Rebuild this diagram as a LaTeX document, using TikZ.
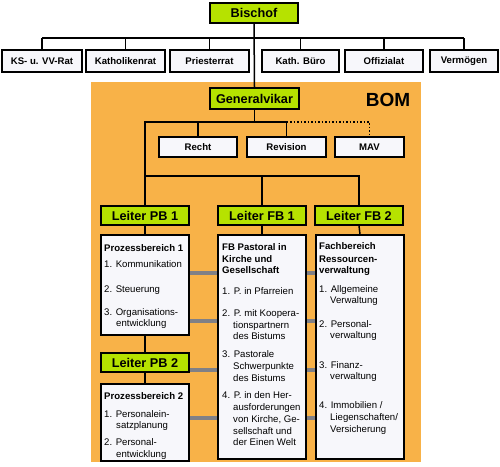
\documentclass[tikz,border=0pt]{standalone}
\usepackage{fontspec}
\setmainfont{Liberation Sans}

\definecolor{bomorange}{RGB}{248,178,72}
\definecolor{leitgruen}{RGB}{182,226,0}
\definecolor{boxweiss}{RGB}{247,247,251}
\definecolor{balkengrau}{RGB}{128,128,134}

\tikzset{
  linie/.style={line width=1.5pt},
  kasten/.style={draw,line width=1.5pt,fill=boxweiss,inner sep=0pt,
    font=\fontsize{9.6}{11.7}\selectfont\bfseries},
  leiter/.style={draw,line width=1.8pt,fill=leitgruen,inner sep=0pt,
    font=\fontsize{12.7}{14}\selectfont\bfseries},
  balken/.style={line width=3.6pt,draw=balkengrau},
  zeile/.style={anchor=base west,inner sep=0pt,font=\fontsize{9.6}{11.7}\selectfont}
}

\begin{document}
\begin{tikzpicture}[x=1pt,y=-1pt]
  \useasboundingbox (0,0) rectangle (500,466);
  % BOM area
  \fill[bomorange] (91,82) rectangle (421,462);
  \node[font=\fontsize{19}{20}\selectfont\bfseries] (bom) at (388,100) {BOM};

  % gray links between the areas
  \foreach \y in {273,321,370,418}
    {
      \draw[balken] (120,\y) -- (240,\y);
      \draw[balken] (290,\y) -- (330,\y);
    }

  % Bischof and the councils
  \node[leiter,minimum width=88pt,minimum height=20pt] (bischof) at (254,13) {Bischof};
  \foreach \x/\w/\n/\s in {42/80/ks/KS- u. VV-Rat,125.5/79/kr/Katholikenrat,
      209.5/79/pr/Priesterrat,300.5/77/kb/Kath. Büro,384/78/of/Offizialat,
      464/68/vm/Vermögen}
    {
      \node[kasten,minimum width=\w pt,minimum height=22pt] (\n) at (\x,61) {\s};
    }
  \coordinate (busoben) at (254,38);
  \draw[linie] (ks.north |- busoben) -- (vm.north |- busoben);
  \foreach \n in {ks,kr,pr,kb,of,vm}
    {
      \draw[linie] (\n.north) -- (\n.north |- busoben);
    }

  % Generalvikar and staff
  \node[leiter,minimum width=89pt,minimum height=21pt] (gv) at (254.5,98.5) {Generalvikar};
  \draw[linie] (bischof.south) -- (gv.north);
  \node[kasten,minimum width=78pt,minimum height=20pt] (recht) at (198,147) {Recht};
  \node[kasten,minimum width=79pt,minimum height=20pt] (revision) at (286.5,147) {Revision};
  \node[kasten,minimum width=69pt,minimum height=20pt] (mav) at (369.5,147) {MAV};
  \coordinate (gvbus) at (254.5,122);

  % Leiter
  \node[leiter,minimum width=88pt,minimum height=19pt] (lpb1) at (145,215.5) {Leiter PB 1};
  \node[leiter,minimum width=88pt,minimum height=19pt] (lfb1) at (262,215.5) {Leiter FB 1};
  \node[leiter,minimum width=88pt,minimum height=19pt] (lfb2) at (359,215.5) {Leiter FB 2};
  \node[leiter,minimum width=88pt,minimum height=19pt] (lpb2) at (145,362.5) {Leiter PB 2};
  \coordinate (lbus) at (254,176);

  \draw[linie] (gv.south) -- (gvbus);
  \draw[linie] (lpb1.north) |- (revision.north |- gvbus) -- (revision.north);
  \draw[linie] (recht.north) -- (recht.north |- gvbus);
  \draw[linie,dotted] (revision.north |- gvbus) -| (mav.north);
  \draw[linie] (lpb1.north |- lbus) -| (lfb2.north);
  \draw[linie] (lfb1.north) -- (lfb1.north |- lbus);

  % areas
  \node[kasten,minimum width=88pt,minimum height=100pt] (pb1) at (145,285) {};
  \node[kasten,minimum width=88pt,minimum height=77pt] (pb2) at (145,422.5) {};
  \node[kasten,minimum width=88pt,minimum height=224pt] (fb1) at (262,347) {};
  \node[kasten,minimum width=88pt,minimum height=224pt] (fb2) at (360,347) {};
  \draw[linie] (lpb1.south) -- (pb1.north);
  \draw[linie] (pb1.south) -- (lpb2.north);
  \draw[linie] (lpb2.south) -- (pb2.north);
  \draw[linie] (lfb1.south) -- (fb1.north);
  \draw[linie] (lfb2.south) -- (fb2.north);

  % texts of the areas
  \foreach \x/\y/\t [count=\i] in {104/251/{\bfseries Prozessbereich 1},
      104/267.7/{1. Kommunikation},104/292/{2. Steuerung},
      104/315/{3. Organisations-},116/326/{entwicklung},
      104/399/{\bfseries Prozessbereich 2},104/417/{1. Personalein-},
      116/428/{satzplanung},104/445/{2. Personal-},116/457/{entwicklung}}
    {
      \node[zeile] (pbtext-\i) at (\x,\y) {\t};
    }
  \foreach \x/\y/\t [count=\i] in {222/250/{\bfseries FB Pastoral in},
      222/262/{\bfseries Kirche und},222/273/{\bfseries Gesellschaft},
      222/294/{1. P. in Pfarreien},222/316/{2. P. mit Koopera-},
      233/328/{tionspartnern},233/339/{des Bistums},
      222/357/{3. Pastorale},233/369/{Schwerpunkte},233/381/{des Bistums},
      222/398/{4. P. in den Her-},233/410/{ausforderungen},
      233/422/{von Kirche, Ge-},233/434/{sellschaft und},233/445/{der Einen Welt}}
    {
      \node[zeile] (fbatext-\i) at (\x,\y) {\t};
    }
  \foreach \x/\y/\t [count=\i] in {319/249/{\bfseries Fachbereich},
      319/262/{\bfseries Ressourcen-},319/273/{\bfseries verwaltung},
      319/292/{1. Allgemeine},330/303/{Verwaltung},
      319/327/{2. Personal-},330/338/{verwaltung},
      319/368/{3. Finanz-},330/379/{verwaltung},
      319/408/{4. Immobilien /},330/420/{Liegenschaften/},330/432/{Versicherung}}
    {
      \node[zeile] (fbbtext-\i) at (\x,\y) {\t};
    }
\end{tikzpicture}
\end{document}
